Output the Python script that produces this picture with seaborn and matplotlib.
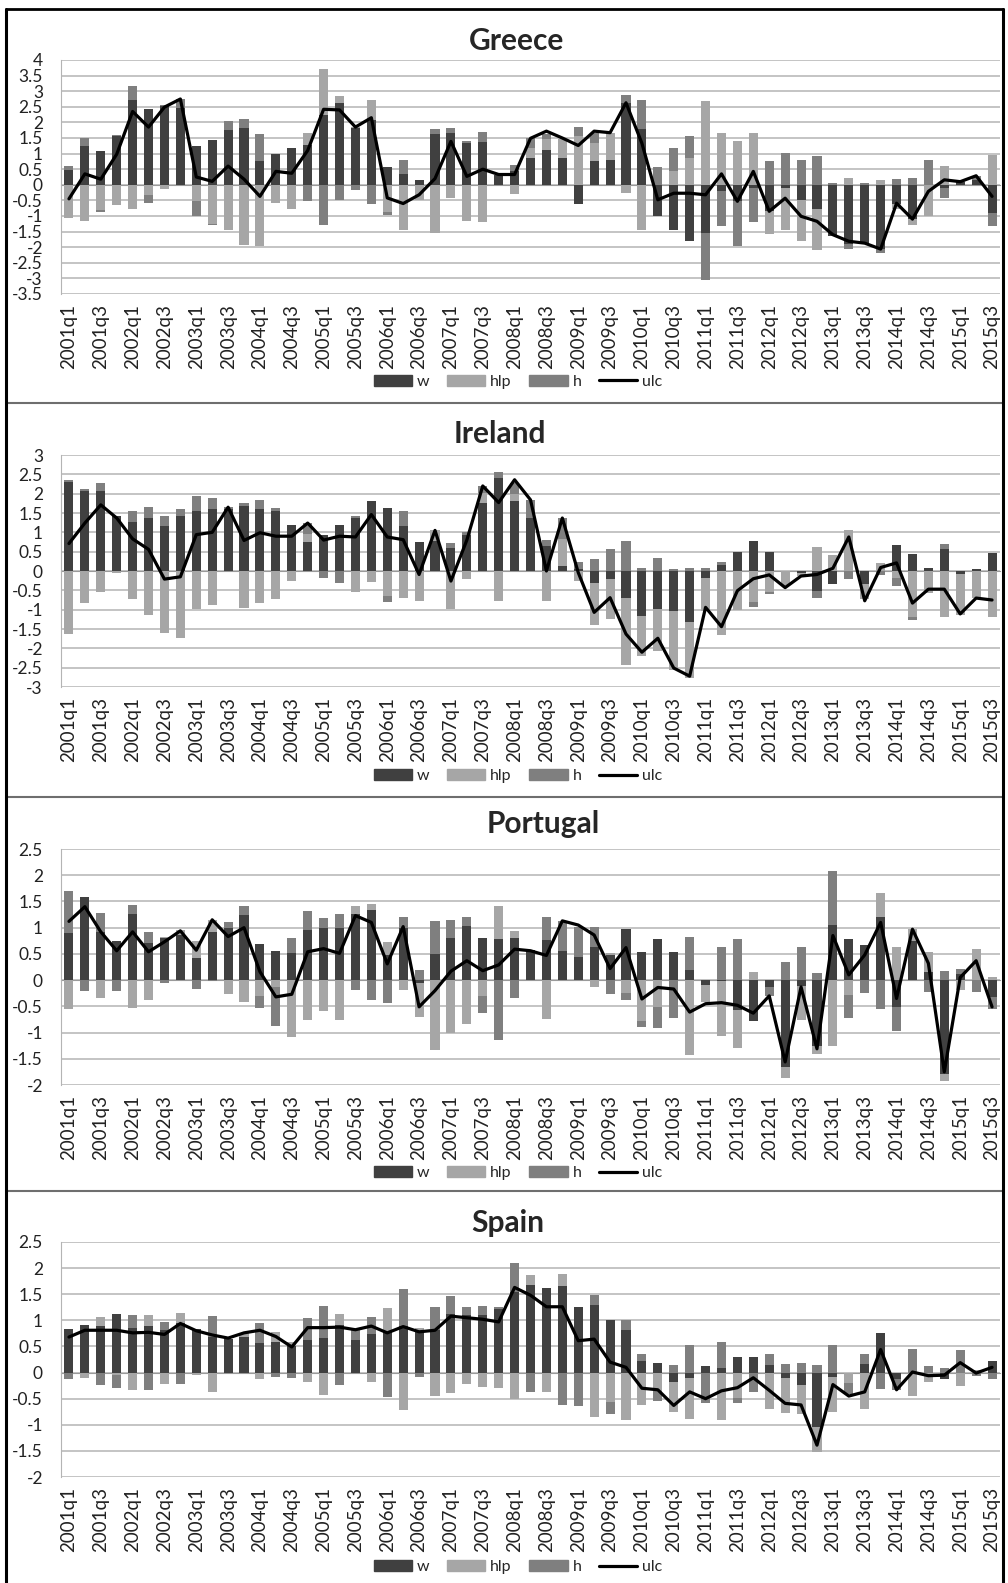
import numpy as np
import matplotlib
matplotlib.use("Agg")
import matplotlib.pyplot as plt
from matplotlib.patches import Patch
from matplotlib.lines import Line2D
import seaborn as sns

sns.set_style("white")
plt.rcParams['font.family'] = ['Lato', 'DejaVu Sans']

quarters = [f"{y}q{q}" for y in range(2001, 2016) for q in range(1, 5)][:59]

# Greece
gr_w = [0.48, 1.23, 1.09, 1.57, 2.72, 2.42, 2.53, 2.45, 1.23, 1.42, 1.76, 1.83, 0.75, 0.99, 1.17, 1.28,
        2.24, 2.63, 1.81, 2.08, 0.57, 0.35, 0.16, 1.63, 1.67, 1.33, 1.36, 0.33, 0.45, 0.85, 1.12, 0.85,
        -0.60, 0.75, 0.80, 2.61, 1.79, -1.01, -1.44, -1.79, -1.55, -0.21, -0.53, -0.10, -0.85, -0.10,
        -0.48, -0.78, -1.63, -1.90, -1.90, -2.06, -0.60, -1.10, 0.00, -0.10, 0.08, 0.15, -0.89]
gr_hlp = [-1.07, -1.17, -0.80, -0.64, -0.77, -0.32, -0.14, 0.00, -0.53, -1.25, -1.44, -1.92, -1.95, -0.57,
          -0.78, 0.37, 1.46, 0.21, 0.05, 0.64, -0.88, -1.44, -0.48, -1.55, -0.43, -1.17, -1.20, 0.00, -0.30,
          0.32, 0.34, 0.62, 1.55, 0.58, 0.87, -0.25, -1.44, 0.00, 0.43, 0.85, 2.70, 1.65, 1.39, 1.65,
          -0.72, -1.34, -1.33, -1.32, 0.00, 0.21, 0.00, 0.16, -0.17, -0.18, -0.99, 0.59, 0.04, 0.00, 0.96]
gr_h = [0.11, 0.27, -0.08, 0.03, 0.45, -0.27, 0.03, 0.29, -0.48, -0.04, 0.27, 0.28, 0.88, 0.00, 0.00, -0.53,
        -1.28, -0.48, -0.18, -0.60, -0.10, 0.45, -0.02, 0.15, 0.14, 0.08, 0.33, 0.00, 0.20, 0.32, 0.17, 0.00,
        0.30, 0.33, 0.00, 0.27, 0.93, 0.57, 0.74, 0.70, -1.49, -1.10, -1.42, -1.10, 0.75, 1.01, 0.80, 0.91,
        0.07, -0.16, 0.05, -0.13, 0.18, 0.21, 0.78, -0.33, 0.00, 0.12, -0.42]
gr_ulc = [-0.45, 0.35, 0.18, 0.98, 2.35, 1.85, 2.49, 2.75, 0.25, 0.11, 0.60, 0.18, -0.37, 0.43, 0.37, 1.10,
          2.42, 2.40, 1.85, 2.15, -0.42, -0.60, -0.32, 0.20, 1.39, 0.27, 0.50, 0.33, 0.33, 1.49, 1.72, 1.50,
          1.26, 1.72, 1.67, 2.63, 1.33, -0.48, -0.27, -0.27, -0.32, 0.35, -0.53, 0.43, -0.85, -0.43, -1.01,
          -1.17, -1.60, -1.81, -1.87, -2.06, -0.59, -1.10, -0.21, 0.16, 0.10, 0.29, -0.37]

# Ireland
ie_w = [2.29, 2.08, 2.06, 1.41, 1.26, 1.37, 1.17, 1.43, 1.54, 1.61, 1.60, 1.67, 1.61, 1.54, 1.20, 0.75,
        0.94, 1.18, 1.37, 1.82, 1.63, 1.16, 0.75, 0.77, 0.60, 0.92, 1.76, 2.40, 1.80, 1.37, 0.64, 0.13,
        0.05, -0.32, -0.20, -0.71, -1.17, -0.99, -1.03, -1.31, -0.19, 0.15, 0.50, 0.77, 0.50, 0.00, -0.05,
        -0.51, -0.33, 0.00, -0.33, 0.00, 0.66, 0.43, 0.09, 0.56, -0.09, 0.04, 0.47]
ie_hlp = [-1.63, -0.83, -0.54, -0.04, -0.73, -1.13, -1.61, -1.74, -0.99, -0.88, 0.00, -0.96, -0.83, -0.73,
          -0.27, 0.21, 0.00, 0.00, -0.54, -0.28, -0.64, -0.70, -0.77, 0.28, -0.99, -0.21, 0.26, -0.77, 0.19,
          0.00, -0.77, 0.69, -0.26, -1.08, -1.04, -1.71, -1.03, -1.09, -1.52, -1.47, -0.84, -1.65, -1.00,
          -0.81, -0.54, -0.40, -0.08, 0.63, 0.41, 1.07, -0.40, 0.20, -0.17, -1.20, -0.56, -1.20, -1.05,
          -0.70, -1.20]
ie_h = [0.07, 0.04, 0.21, 0.00, 0.30, 0.28, 0.24, 0.17, 0.40, 0.29, 0.05, 0.09, 0.23, 0.09, 0.00, 0.28,
        -0.17, -0.30, 0.04, 0.00, -0.15, 0.39, 0.00, 0.00, 0.13, 0.09, 0.19, 0.17, 0.28, 0.47, 0.17, 0.56,
        0.17, 0.30, 0.57, 0.77, 0.09, 0.33, 0.06, 0.09, 0.09, 0.09, 0.00, -0.13, -0.06, 0.00, 0.00, -0.20,
        0.00, -0.20, 0.00, -0.10, -0.23, -0.06, 0.00, 0.15, 0.00, 0.00, 0.00]
ie_ulc = [0.71, 1.24, 1.71, 1.37, 0.83, 0.56, -0.21, -0.15, 0.94, 1.00, 1.65, 0.79, 0.99, 0.90, 0.90, 1.24,
          0.80, 0.90, 0.88, 1.46, 0.88, 0.81, -0.09, 1.05, -0.26, 0.80, 2.20, 1.77, 2.36, 1.84, 0.00, 1.37,
          -0.04, -1.07, -0.69, -1.63, -2.10, -1.74, -2.51, -2.72, -0.94, -1.44, -0.51, -0.20, -0.10, -0.43,
          -0.13, -0.09, 0.07, 0.88, -0.77, 0.09, 0.21, -0.83, -0.47, -0.47, -1.11, -0.70, -0.75]

# Portugal
pt_w = [0.89, 1.58, 0.92, 0.75, 1.26, 0.70, 0.80, 0.86, 0.43, 0.91, 1.00, 1.24, 0.69, 0.55, 0.52, 0.96,
        1.00, 1.00, 1.26, 1.33, 0.48, 1.00, -0.06, 0.50, 0.80, 1.04, 0.80, 0.78, 0.80, 0.57, 0.77, 0.55,
        0.45, 0.64, 0.48, 0.98, 0.54, 0.78, 0.54, 0.19, -0.10, -0.02, -0.57, -0.78, -0.13, -1.66, -0.11,
        -1.26, 1.05, 0.78, 0.67, 1.20, -0.51, 0.75, 0.16, -1.79, 0.11, 0.00, -0.32]
pt_hlp = [-0.56, 0.00, -0.35, 0.00, -0.53, -0.38, 0.03, 0.10, 0.32, 0.24, -0.27, -0.41, -0.31, -0.14,
          -1.08, -0.77, -0.59, -0.77, 0.15, 0.13, 0.24, -0.18, -0.64, -1.34, -1.01, -0.84, -0.31, 0.64,
          0.14, 0.00, -0.75, 0.00, 0.00, -0.14, 0.03, -0.24, -0.78, -0.51, 0.00, -1.42, -0.32, -1.05,
          -0.73, 0.16, 0.00, -0.21, -0.65, -0.15, -1.26, -0.29, 0.00, 0.47, 0.64, 0.22, 0.37, -0.14,
          -0.19, 0.59, 0.06]
pt_h = [0.80, -0.20, 0.36, -0.20, 0.17, 0.22, -0.05, 0.00, -0.16, -0.02, 0.10, 0.17, -0.22, -0.73, 0.28,
        0.35, 0.18, 0.27, -0.19, -0.37, -0.43, 0.20, 0.19, 0.63, 0.35, 0.16, -0.32, -1.14, -0.35, 0.00,
        0.43, 0.57, 0.56, 0.38, -0.27, -0.14, -0.11, -0.40, -0.73, 0.63, 0.00, 0.63, 0.78, 0.00, -0.17,
        0.34, 0.64, 0.13, 1.04, -0.43, -0.24, -0.56, -0.46, 0.00, -0.22, 0.18, 0.10, -0.22, -0.24]
pt_ulc = [1.12, 1.40, 0.92, 0.56, 0.92, 0.54, 0.73, 0.94, 0.57, 1.15, 0.83, 1.00, 0.16, -0.32, -0.27, 0.54,
          0.60, 0.51, 1.23, 1.10, 0.31, 1.02, -0.51, -0.20, 0.17, 0.37, 0.18, 0.29, 0.59, 0.56, 0.47, 1.13,
          1.05, 0.86, 0.22, 0.62, -0.36, -0.14, -0.17, -0.61, -0.45, -0.43, -0.48, -0.63, -0.30, -1.56,
          -0.13, -1.31, 0.85, 0.10, 0.48, 1.10, -0.35, 0.97, 0.32, -1.75, 0.05, 0.37, -0.51]

# Spain
es_w = [0.84, 0.91, 0.89, 1.12, 0.86, 0.89, 0.81, 0.94, 0.84, 0.68, 0.65, 0.68, 0.57, 0.59, 0.50, 0.62,
        0.66, 0.91, 0.62, 0.73, 0.78, 0.89, 0.79, 0.81, 1.12, 1.10, 1.10, 1.22, 1.55, 1.67, 1.62, 1.66,
        1.26, 1.29, 1.00, 0.82, 0.22, 0.19, -0.18, -0.11, 0.12, 0.08, 0.29, 0.29, 0.14, -0.11, -0.24,
        -1.05, -0.08, 0.00, 0.16, 0.75, -0.13, 0.00, 0.00, -0.13, 0.00, 0.00, 0.22]
es_hlp = [0.00, -0.10, 0.17, -0.05, -0.34, 0.21, -0.22, 0.21, -0.04, -0.37, 0.00, 0.08, -0.13, 0.19, 0.09,
          -0.19, -0.43, 0.21, 0.00, -0.18, 0.45, -0.71, 0.07, -0.45, -0.39, -0.22, -0.27, -0.29, -0.50,
          0.19, -0.37, 0.22, 0.00, -0.85, -0.56, -0.91, -0.63, -0.36, -0.57, -0.78, 0.00, -0.91, -0.48,
          0.00, -0.69, -0.66, -0.55, -0.48, -0.67, -0.20, -0.70, 0.00, 0.00, -0.45, -0.19, 0.00, -0.26,
          0.05, 0.00]
es_h = [-0.13, 0.00, -0.24, -0.24, 0.24, -0.33, 0.16, -0.21, 0.00, 0.41, 0.00, 0.00, 0.37, -0.08, -0.11,
        0.43, 0.62, -0.24, 0.19, 0.33, -0.47, 0.71, -0.08, 0.45, 0.34, 0.15, 0.18, 0.03, 0.55, -0.37, 0.00,
        -0.63, -0.64, 0.19, -0.24, 0.18, 0.13, -0.18, 0.14, 0.52, -0.59, 0.50, -0.10, -0.37, 0.22, 0.17,
        0.19, 0.14, 0.52, -0.22, 0.19, -0.31, -0.20, 0.46, 0.13, 0.08, 0.44, -0.06, -0.13]
es_ulc = [0.68, 0.81, 0.81, 0.81, 0.76, 0.77, 0.73, 0.94, 0.80, 0.72, 0.66, 0.76, 0.81, 0.69, 0.49, 0.86,
          0.86, 0.87, 0.82, 0.89, 0.76, 0.88, 0.78, 0.81, 1.08, 1.05, 1.02, 0.97, 1.63, 1.48, 1.26, 1.26,
          0.61, 0.64, 0.20, 0.10, -0.30, -0.33, -0.63, -0.37, -0.50, -0.35, -0.29, -0.10, -0.34, -0.59,
          -0.62, -1.39, -0.23, -0.45, -0.37, 0.44, -0.33, 0.01, -0.06, -0.05, 0.19, -0.01, 0.10]

series_names = ["w", "hlp", "h", "ulc"]
bar_colors = ["#404040", "#a6a6a6", "#7f7f7f"]

W, H = 1008, 1583
fig = plt.figure(figsize=(W / 100, H / 100), dpi=100)

# name, data, y range, axes top/bottom (px), title centre x/y (px), legend y (px)
panels = [
    ("Greece", (gr_w, gr_hlp, gr_h, gr_ulc), (-3.5, 4.0), 60, 294, 517, 41, 382),
    ("Ireland", (ie_w, ie_hlp, ie_h, ie_ulc), (-3.0, 3.0), 455, 687, 500, 434, 776),
    ("Portugal", (pt_w, pt_hlp, pt_h, pt_ulc), (-2.0, 2.5), 849, 1085, 543, 824, 1173),
    ("Spain", (es_w, es_hlp, es_h, es_ulc), (-2.0, 2.5), 1242, 1477, 508, 1223, 1567),
]

x = np.arange(len(quarters))
grid_col = "#b4b4b4"

for name, data, (ymin, ymax), top, bot, tx, ty, ly in panels:
    ax = fig.add_axes([61 / W, 1 - bot / H, 939 / W, (bot - top) / H])
    pos = np.zeros(len(x))
    neg = np.zeros(len(x))
    for vals, col in zip(data[:3], bar_colors):
        v = np.array(vals)
        base = np.where(v >= 0, pos, neg)
        ax.bar(x, v, bottom=base, width=0.57, color=col, linewidth=0, zorder=2)
        pos += np.clip(v, 0, None)
        neg += np.clip(v, None, 0)
    sns.lineplot(x=x, y=data[3], color="black", lw=2.3, ax=ax, zorder=3)

    ax.set_xlim(-0.5, len(x) - 0.5)
    ax.set_ylim(ymin, ymax)
    yt = np.arange(ymin, ymax + 0.01, 0.5)
    ax.set_yticks(yt, ["{:g}".format(v) for v in yt])
    ax.yaxis.grid(True, color=grid_col, lw=1.1)
    ax.set_axisbelow(True)
    ax.tick_params(axis="y", length=5, color=grid_col, labelsize=12.5, pad=8, labelcolor="#222222")
    for s in ["top", "right"]:
        ax.spines[s].set_visible(False)
    ax.spines["left"].set_color(grid_col)
    ax.spines["bottom"].set_position(("data", 0))
    ax.spines["bottom"].set_color("#9a9a9a")
    ax.spines["bottom"].set_zorder(1)
    ax.set_xticks(np.arange(-0.5, len(x), 1))
    ax.tick_params(axis="x", length=4, color="#9a9a9a", labelbottom=False)
    ax.set_xlabel("")
    ax.set_ylabel("")

    sec = ax.secondary_xaxis(0)
    sec.set_xticks(x[::2], quarters[::2])
    sec.tick_params(length=0, labelrotation=90, pad=7, labelsize=13.5, labelcolor="#222222")
    sec.spines["bottom"].set_visible(False)

    fig.text(tx / W, 1 - ty / H, name, ha="center", va="center", fontsize=21.5, fontweight="bold")

    handles = [Patch(color=c) for c in bar_colors] + [Line2D([], [], color="black", lw=2.3)]
    fig.legend(handles, series_names, loc="center", bbox_to_anchor=(518 / W, 1 - ly / H), ncol=4,
               frameon=False, fontsize=11.5, handlelength=2.4, handleheight=0.75, handletextpad=0.3,
               columnspacing=1.1)

# frame around the panels
for yy in [403, 797, 1191]:
    fig.add_artist(Line2D([6 / W, 1003 / W], [1 - yy / H] * 2, color="#6e6e6e", lw=1.5))
fig.add_artist(Line2D([6 / W, 1003 / W], [1 - 9 / H] * 2, color="black", lw=2))
fig.add_artist(Line2D([6 / W] * 2, [0, 1 - 9 / H], color="black", lw=2.2))
fig.add_artist(Line2D([1003 / W] * 2, [0, 1 - 9 / H], color="black", lw=2.2))

fig.savefig("out.png", dpi=100)
